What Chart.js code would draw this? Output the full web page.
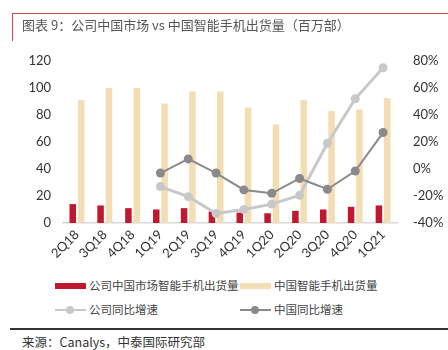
<!DOCTYPE html>
<html>
<head>
<meta charset="utf-8">
<script src="https://cdn.jsdelivr.net/npm/chart.js@4"></script>
<style>
  body { margin: 0; background: #fff; font-family: "Noto Sans CJK SC", sans-serif; }
  #wrap { position: relative; width: 448px; height: 350px; overflow: hidden; }
  #frame { position: absolute; left: 12px; top: 13px; width: 440px; height: 27px;
    border-top: 1.5px solid #d9444f; border-left: 1.5px solid #d9444f; }
  #title { position: absolute; left: 22px; top: 15px; font-size: 13px; color: #555; white-space: nowrap; }
  #chart { position: absolute; left: 0; top: 0; }
  .lg { position: absolute; font-size: 11.5px; color: #444; white-space: nowrap; line-height: 14px; }
  .sw { display: inline-block; width: 31px; height: 6px; vertical-align: middle; margin-right: 3px; position: relative; top: -1px; }
  .ln { display: inline-block; width: 31px; height: 10px; vertical-align: middle; margin-right: 3px; position: relative; top: -1px; }
  .ln::before { content: ""; position: absolute; left: 0; right: 0; top: 4px; height: 2px; background: var(--c); }
  .ln::after { content: ""; position: absolute; left: 11px; top: 1px; width: 8px; height: 8px; border-radius: 50%; background: var(--c); }
  #rule { position: absolute; left: 10px; right: 0; top: 328px; height: 1.5px; background: #333; }
  #src { position: absolute; left: 22px; top: 332px; font-size: 12.5px; color: #333; white-space: nowrap; }
</style>
</head>
<body>
<div id="wrap">
  <canvas id="chart" width="448" height="275"></canvas>
  <div id="frame"></div>
  <div id="title">图表 9：公司中国市场 vs 中国智能手机出货量（百万部）</div>
  <div class="lg" style="left:55px;top:278px"><span class="sw" style="background:#c0182f"></span>公司中国市场智能手机出货量</div>
  <div class="lg" style="left:240px;top:278px"><span class="sw" style="background:#f2ddb5"></span>中国智能手机出货量</div>
  <div class="lg" style="left:55px;top:302px"><span class="ln" style="--c:#c8c8c8"></span>公司同比增速</div>
  <div class="lg" style="left:240px;top:302px"><span class="ln" style="--c:#8a8a8a"></span>中国同比增速</div>
  <div id="rule"></div>
  <div id="src">来源：Canalys，中泰国际研究部</div>
</div>
<script>
const quarters = ["2Q18", "3Q18", "4Q18", "1Q19", "2Q19", "3Q19", "4Q19", "1Q20", "2Q20", "3Q20", "4Q20", "1Q21"];
const companyShipments = [14, 13, 11, 10, 11, 8.5, 7.7, 7.2, 9, 10, 12, 13];
const chinaShipments = [91, 100, 100, 88.5, 97.5, 97.5, 85.5, 73, 91, 83, 84, 92.5];
const companyYoY = [null, null, null, -13, -20.5, -33, -30, -26, -19.5, 19, 52, 75];
const chinaYoY = [null, null, null, -3, 7.5, -3, -15.5, -18, -7, -15, -1.5, 27];
const leftTicks = [0, 20, 40, 60, 80, 100, 120];

const tickFont = { family: "Lato, sans-serif", size: 13 };

new Chart(document.getElementById("chart"), {
  data: {
    labels: quarters,
    datasets: [
      { type: "line", label: "中国同比增速", data: chinaYoY, yAxisID: "y1", order: 0,
        borderColor: "#8a8a8a", backgroundColor: "#8a8a8a", borderWidth: 2,
        pointRadius: 4.5, pointBorderWidth: 0, tension: 0 },
      { type: "line", label: "公司同比增速", data: companyYoY, yAxisID: "y1", order: 1,
        borderColor: "#c8c8c8", backgroundColor: "#c8c8c8", borderWidth: 3,
        pointRadius: 4.5, pointBorderWidth: 0, tension: 0 },
      { type: "bar", label: "公司中国市场智能手机出货量", data: companyShipments, yAxisID: "y", order: 2,
        backgroundColor: "#c0182f", categoryPercentage: 0.6, barPercentage: 0.78 },
      { type: "bar", label: "中国智能手机出货量", data: chinaShipments, yAxisID: "y", order: 2,
        backgroundColor: "#f2ddb5", categoryPercentage: 0.6, barPercentage: 0.78 }
    ]
  },
  options: {
    responsive: false,
    animation: false,
    layout: { padding: { top: 61, left: 0, right: 0, bottom: 0 } },
    plugins: { legend: { display: false }, tooltip: { enabled: false } },
    scales: {
      x: {
        grid: { display: false, drawTicks: false },
        border: { color: "#d9d9d9", width: 1.5 },
        ticks: { color: "#333", font: tickFont, minRotation: 45, maxRotation: 45, padding: 4 },
        afterFit: s => { s.height = 52; }
      },
      y: {
        position: "left", min: 0, max: 120,
        grid: { display: false, drawTicks: false },
        border: { display: false },
        ticks: { color: "#333", font: tickFont, padding: 12, stepSize: 20,
          callback: v => leftTicks.includes(v) ? v : "" },
        afterFit: s => { s.width = 63; }
      },
      y1: {
        position: "right", min: -40, max: 80,
        grid: { display: false, drawTicks: false },
        border: { display: false },
        ticks: { color: "#333", font: tickFont, padding: 16, stepSize: 20,
          callback: v => v + "%" },
        afterFit: s => { s.width = 51; }
      }
    }
  }
});
</script>
</body>
</html>
